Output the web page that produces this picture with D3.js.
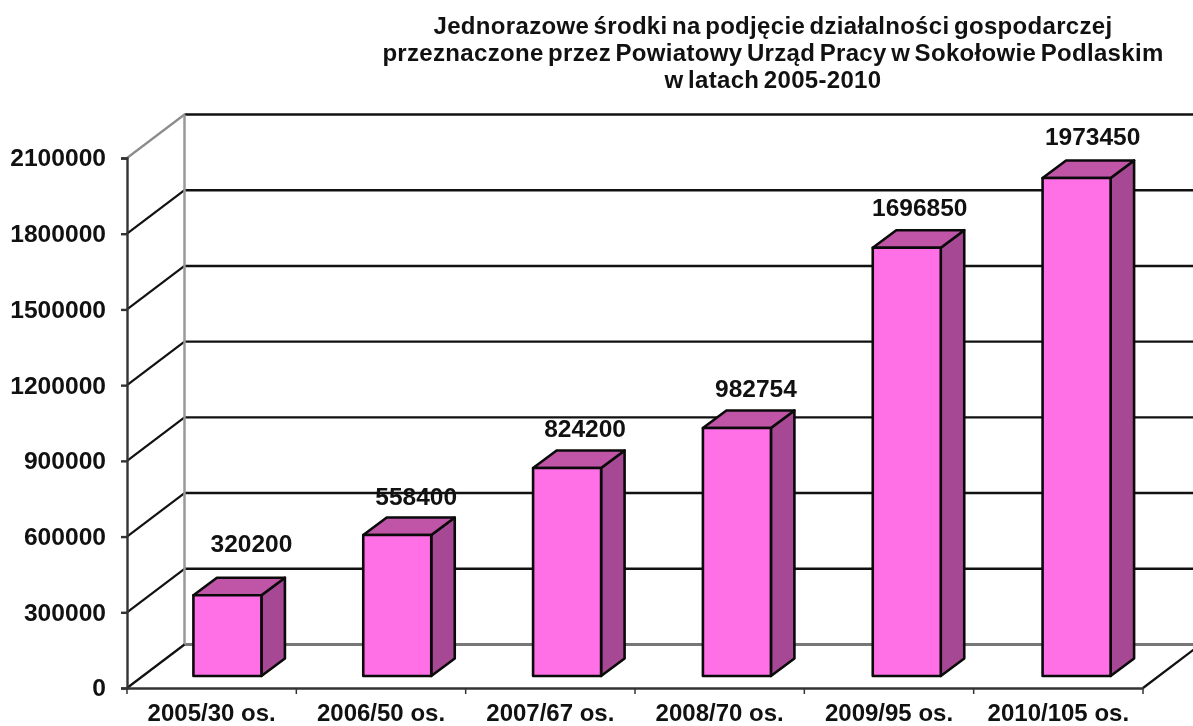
<!DOCTYPE html>
<html><head><meta charset="utf-8">
<script src="https://cdnjs.cloudflare.com/ajax/libs/d3/7.8.5/d3.min.js"></script>
<style>html,body{margin:0;padding:0;background:#fff;overflow:hidden}svg{display:block;filter:blur(0.55px)}text{font-family:"Liberation Sans",Arial,sans-serif;font-weight:bold;fill:#111}</style>
</head><body><svg id="c" width="1193" height="726"></svg>
<script>
const categories=["2005/30 os.","2006/50 os.","2007/67 os.","2008/70 os.","2009/95 os.","2010/105 os."];
const values=[320200,558400,824200,982754,1696850,1973450];
const tickValues=[0,300000,600000,900000,1200000,1500000,1800000,2100000];
const titleLines=["Jednorazowe środki na podjęcie działalności gospodarczej","przeznaczone przez Powiatowy Urząd Pracy w Sokołowie Podlaskim","w latach 2005-2010"];
const labelShift=[[24,43],[19,30],[18,31],[19,31],[13,32],[16,33]];

const svg=d3.select("#c");
const x=d3.scaleBand().domain(categories).range([127,1143]);
const xBar=d3.scaleBand().domain(categories).range([127,1146]);
const y=d3.scaleLinear().domain([0,2100000]).range([688,158]);
const wallDx=57.5,wallDy=-43.5;
const frontDx=16,frontDy=-12,barW=68,barDx=23.5,barDy=-17.5;
const W=1193;

const grid=svg.append("g");
tickValues.forEach(t=>{
  const yy=y(t);
  const col=t===0?"#666":(t===2100000?"#8c8c8c":"#111");
  if(t>0)grid.append("line").attr("x1",x.range()[0]).attr("y1",yy).attr("x2",x.range()[0]+wallDx).attr("y2",yy+wallDy).attr("stroke",col).attr("stroke-width",2.2);
  grid.append("line").attr("x1",x.range()[0]+wallDx).attr("y1",yy+wallDy).attr("x2",W).attr("y2",yy+wallDy)
    .attr("stroke",t===0?"#777":"#111").attr("stroke-width",t===0?3:2.4);
});
grid.append("line").attr("x1",x.range()[0]+wallDx).attr("x2",x.range()[0]+wallDx).attr("y1",y(0)+wallDy).attr("y2",y(2100000)+wallDy).attr("stroke","#999").attr("stroke-width",2.5);
[x.range()[0],x.range()[1]].forEach(px=>grid.append("line").attr("x1",px).attr("y1",y(0)).attr("x2",px+wallDx).attr("y2",y(0)+wallDy).attr("stroke","#111").attr("stroke-width",2.2));

const yAxis=d3.axisLeft(y).tickValues(tickValues).tickFormat(d3.format("d")).tickSize(6).tickPadding(15);
const gy=svg.append("g").attr("transform",`translate(${x.range()[0]},0)`).call(yAxis);
gy.selectAll("text").style("font-size","24.6px");
gy.selectAll("line,path").attr("stroke","#333").attr("stroke-width",2.4);
const xAxis=d3.axisBottom(x).tickSize(0).tickPadding(16);
const gx=svg.append("g").attr("transform",`translate(0,${y(0)})`).call(xAxis);
gx.selectAll("text").style("font-size","24px");
gx.select("path").attr("stroke","#333").attr("stroke-width",2.4);
gx.selectAll(".edge").data(d3.range(categories.length+1)).enter().append("line").attr("class","edge")
  .attr("x1",i=>x.range()[0]+i*x.step()).attr("x2",i=>x.range()[0]+i*x.step()).attr("y1",0).attr("y2",6).attr("stroke","#333").attr("stroke-width",1.5);

const bars=svg.append("g").selectAll("g").data(values).enter().append("g");
const L=(d,i)=>xBar(categories[i])+xBar.bandwidth()/2+frontDx-barW/2-0.5, T=d=>y(d)+frontDy, B=()=>y(0)+frontDy;
const st=s=>s.attr("stroke","#0a0a0a").attr("stroke-width",2.6).attr("stroke-linejoin","round");
bars.append("path").attr("fill","#A64893").call(st).attr("d",(d,i)=>{const r=L(d,i)+barW;return `M${r},${T(d)}L${r+barDx},${T(d)+barDy}L${r+barDx},${B()+barDy}L${r},${B()}Z`});
bars.append("path").attr("fill","#C055A8").call(st).attr("d",(d,i)=>{const l=L(d,i),r=l+barW;return `M${l},${T(d)}L${l+barDx},${T(d)+barDy}L${r+barDx},${T(d)+barDy}L${r},${T(d)}Z`});
bars.append("rect").attr("fill","#FF70E6").call(st).attr("x",L).attr("y",T).attr("width",barW).attr("height",d=>B()-T(d));
bars.append("text").attr("text-anchor","middle").style("font-size","24.5px")
  .attr("x",(d,i)=>L(d,i)+barW/2+labelShift[i][0]).attr("y",(d,i)=>T(d)-labelShift[i][1]).text(d=>d);

svg.append("g").selectAll("text").data(titleLines).enter().append("text").attr("text-anchor","middle")
 .attr("x",773).attr("y",(d,i)=>[34,61,88][i]).style("font-size","24px").style("word-spacing","-2.5px").style("letter-spacing","0.32px").text(d=>d);
</script></body></html>
